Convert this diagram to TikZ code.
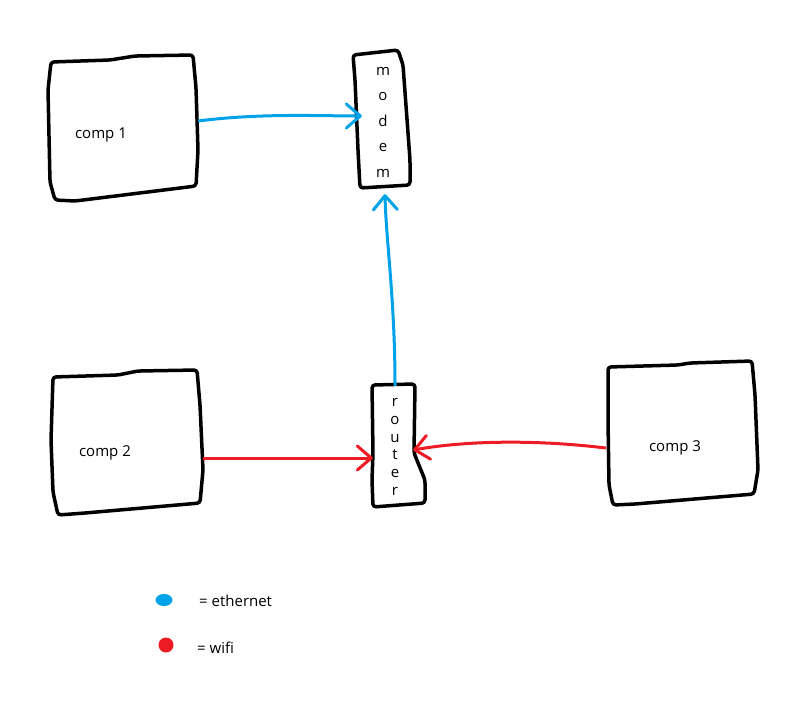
\documentclass[tikz,border=0pt]{standalone}
\usepackage{fontspec}
\setmainfont{Open Sans}
\usetikzlibrary{positioning}
\usetikzlibrary{arrows.meta}
\usetikzlibrary{shapes.geometric}
\definecolor{ethblue}{RGB}{0,162,232}
\definecolor{wifired}{RGB}{237,28,36}

\begin{document}
\begin{tikzpicture}[x=1pt,y=-1pt,
  hand/.style={line width=3.5pt, line join=round, line cap=round, rounded corners=3pt},
  devbox/.style={inner sep=0pt, align=center},
  lbl/.style={inner sep=0pt, font=\fontsize{15}{18}\selectfont},
  eth/.style={ethblue, line width=3pt, -{Straight Barb[length=14pt,width=24pt,round]}},
  wifi/.style={wifired, line width=3pt, -{Straight Barb[length=14pt,width=24pt,round]}},
]
\useasboundingbox (0,0) rectangle (810,705);

%---------------------------------------
% Devices
%---------------------------------------
\node[devbox, minimum width=146pt, minimum height=146pt] (comp1) at (123,128) {};
\node[devbox, minimum width=150pt, minimum height=142pt] (comp2) at (127,443) {};
\node[devbox, minimum width=150pt, minimum height=142pt] (comp3) at (683,433) {};
\node[devbox, minimum width=52pt, minimum height=136pt,
      font=\fontsize{15}{25.5}\selectfont] (modem) at (383,122) {m\\o\\d\\e\\m};
\node[devbox, minimum width=50pt, minimum height=122pt,
      font=\fontsize{15}{17.8}\selectfont] (router) at (395,447) {r\\o\\u\\t\\e\\r};

\node[lbl] (comp1txt) at (101,135) {comp 1};
\node[lbl] (comp2txt) at (105,453) {comp 2};
\node[lbl] (comp3txt) at (675,448) {comp 3};

% hand drawn outlines
\draw[hand] (51,62) -- (110,60) -- (135,56) -- (193,55) -- (196,88)
  -- (198,150) -- (196,186) -- (75,201) -- (55,200) -- (50,182) -- (48,90) -- cycle;
\draw[hand] (53,377) -- (118,375) -- (138,371) -- (197,370) -- (200,405)
  -- (203,470) -- (200,503) -- (85,513) -- (58,515) -- (53,492) -- (51,440) -- cycle;
\draw[hand] (608,367) -- (678,365) -- (690,363) -- (752,361) -- (755,395)
  -- (758,470) -- (754,494) -- (635,504) -- (613,505) -- (609,485) -- (608,420) -- cycle;
\draw[hand] (353,55) -- (398,50) -- (403,65) -- (410,160) -- (410,185)
  -- (360,188) -- (358,150) -- (355,80) -- cycle;
\draw[hand] (372,385) -- (415,384) -- (414,453) -- (425,480) -- (425,503)
  -- (373,507) -- (372,480) -- (373,453) -- cycle;

%---------------------------------------
% Links
%---------------------------------------
\draw[eth] ([shift={(2,-7)}]comp1.east) .. controls (260,113) and (320,116) .. ([shift={(5,-6)}]modem.west);
\draw[eth] (router.north) .. controls (395,300) and (386,240) .. ([shift={(2,4)}]modem.south);
\draw[wifi] ([shift={(1,15)}]comp2.east) -- ([shift={(3,11)}]router.west);
\draw[wifi] ([shift={(-2,15)}]comp3.west) .. controls (540,440) and (470,440) .. ([shift={(-7,3)}]router.east);

%---------------------------------------
% Legend
%---------------------------------------
\node[ellipse, fill=ethblue, inner sep=0pt, minimum width=17pt, minimum height=12pt] (ethdot) at (164,600) {};
\node[circle, fill=wifired, inner sep=0pt, minimum size=15pt] (wifidot) at (166,645) {};
\node[lbl, anchor=west] (ethtxt) at (199,601) {= ethernet};
\node[lbl, anchor=west] (wifitxt) at (197,648) {= wifi};

\end{tikzpicture}
\end{document}
